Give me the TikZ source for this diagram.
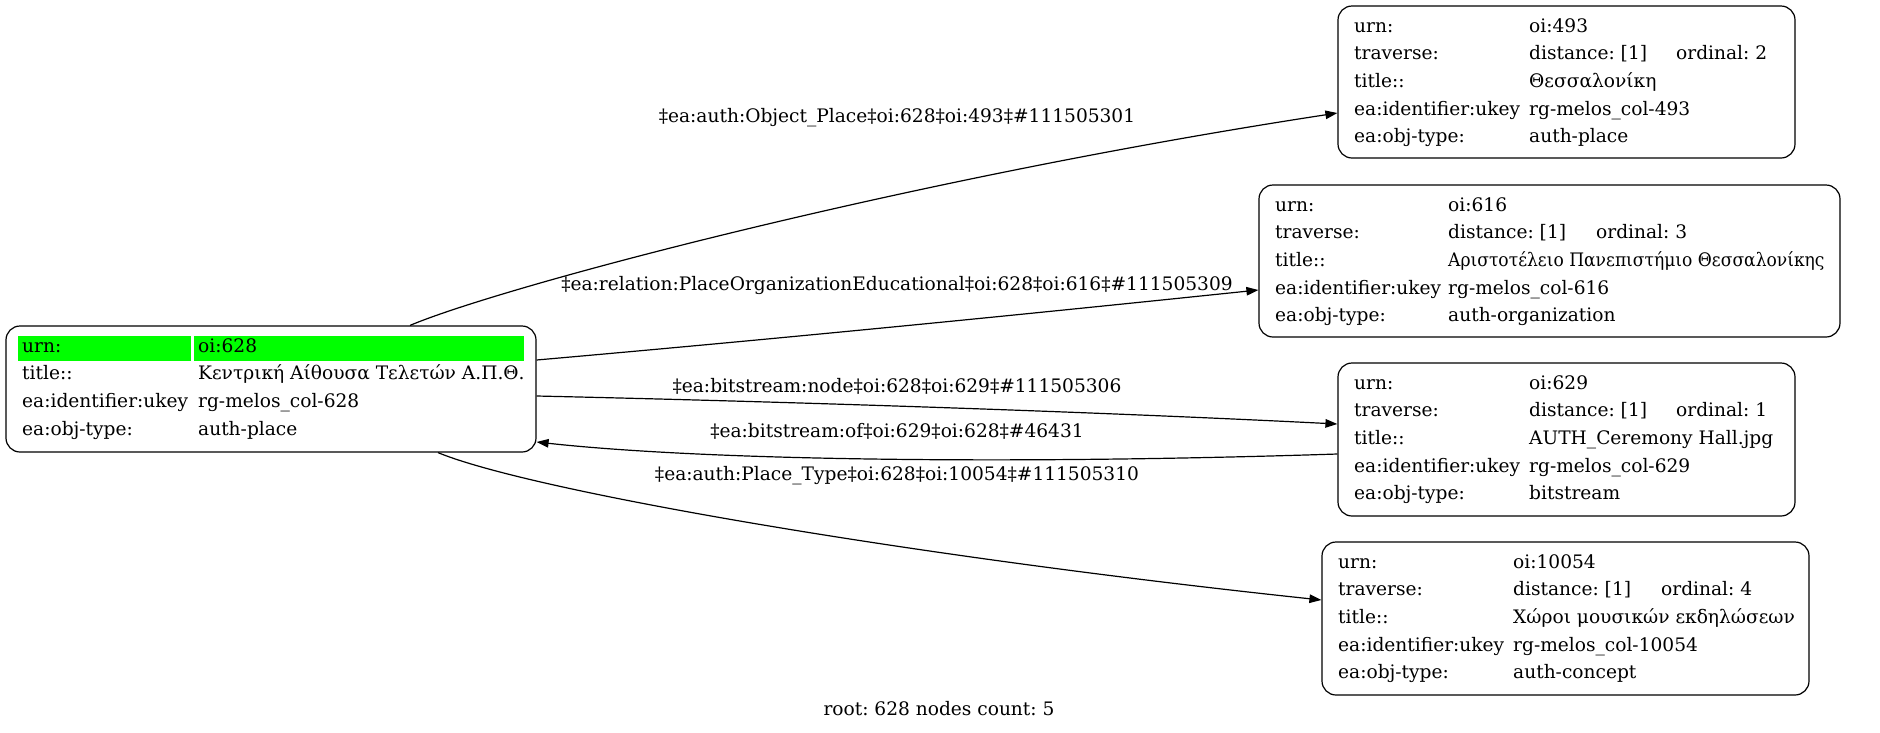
\documentclass[tikz,border=0pt]{standalone}
\usepackage{fontspec}
\setmainfont{DejaVu Serif}
\newfontfamily\narrowgr[FakeStretch=0.92]{DejaVu Serif}
\usetikzlibrary{arrows.meta}
\definecolor{hl}{HTML}{00FF00}
\frenchspacing
\tikzset{
  box/.style={draw, line width=1.2pt, rounded corners=14pt, inner sep=0pt},
  cell/.style={anchor=base west, inner sep=0pt, font=\fontsize{18.6}{22}\selectfont},
  lbl/.style={inner sep=0pt, font=\fontsize{18.6}{22}\selectfont},
  edge/.style={line width=1.2pt, -{Triangle[length=12pt,width=8.5pt]}},
  hlcell/.style={fill=hl, inner sep=0pt}
}
\begin{document}
\begin{tikzpicture}[x=1pt,y=-1pt]
\useasboundingbox (0,0) rectangle (1880,732);
% boxes
\node[box, minimum width=530pt, minimum height=126pt] (root) at (271,389) {};
\node[box, minimum width=457pt, minimum height=152pt] (n493) at (1566.5,82) {};
\node[box, minimum width=581pt, minimum height=152pt] (n616) at (1549.5,261) {};
\node[box, minimum width=457pt, minimum height=153pt] (n629) at (1566.5,439.5) {};
\node[box, minimum width=487pt, minimum height=153pt] (n10054) at (1565.5,618.5) {};
% root highlight
\node[hlcell, minimum width=173pt, minimum height=25pt, anchor=north west] (h1) at (18,336) {};
\node[hlcell, minimum width=330pt, minimum height=25pt, anchor=north west] (h2) at (194,336) {};
% root text
\node[cell] (r1a) at (22,352) {urn:};
\node[cell] (r1b) at (198,352) {oi:628};
\node[cell] (r2a) at (22,379.7) {title::};
\node[cell] (r2b) at (198,379.7) {Κεντρική Αίθουσα Τελετών Α.Π.Θ.};
\node[cell] (r3a) at (22,407.4) {ea:identifier:ukey};
\node[cell] (r3b) at (198,407.4) {rg-melos\_col-628};
\node[cell] (r4a) at (22,435.1) {ea:obj-type:};
\node[cell] (r4b) at (198,435.1) {auth-place};
% 493
\node[cell] (a1a) at (1354,32) {urn:};
\node[cell] (a1b) at (1529,32) {oi:493};
\node[cell] (a2a) at (1354,59.7) {traverse:};
\node[cell] (a2b) at (1529,59.7) {distance: [1]};
\node[cell] (a2c) at (1676,59.7) {ordinal: 2};
\node[cell] (a3a) at (1354,87.4) {title::};
\node[cell] (a3b) at (1529,87.4) {Θεσσαλονίκη};
\node[cell] (a4a) at (1354,115.1) {ea:identifier:ukey};
\node[cell] (a4b) at (1529,115.1) {rg-melos\_col-493};
\node[cell] (a5a) at (1354,142.8) {ea:obj-type:};
\node[cell] (a5b) at (1529,142.8) {auth-place};
% 616
\node[cell] (b1a) at (1275,211) {urn:};
\node[cell] (b1b) at (1448,211) {oi:616};
\node[cell] (b2a) at (1275,238.7) {traverse:};
\node[cell] (b2b) at (1448,238.7) {distance: [1]};
\node[cell] (b2c) at (1596,238.7) {ordinal: 3};
\node[cell] (b3a) at (1275,266.4) {title::};
\node[cell] (b3b) at (1448,266.4) {\narrowgr Αριστοτέλειο Πανεπιστήμιο Θεσσαλονίκης};
\node[cell] (b4a) at (1275,294.1) {ea:identifier:ukey};
\node[cell] (b4b) at (1448,294.1) {rg-melos\_col-616};
\node[cell] (b5a) at (1275,321.8) {ea:obj-type:};
\node[cell] (b5b) at (1448,321.8) {auth-organization};
% 629
\node[cell] (c1a) at (1354,389) {urn:};
\node[cell] (c1b) at (1529,389) {oi:629};
\node[cell] (c2a) at (1354,416.7) {traverse:};
\node[cell] (c2b) at (1529,416.7) {distance: [1]};
\node[cell] (c2c) at (1676,416.7) {ordinal: 1};
\node[cell] (c3a) at (1354,444.4) {title::};
\node[cell] (c3b) at (1529,444.4) {AUTH\_Ceremony Hall.jpg};
\node[cell] (c4a) at (1354,472.1) {ea:identifier:ukey};
\node[cell] (c4b) at (1529,472.1) {rg-melos\_col-629};
\node[cell] (c5a) at (1354,499.8) {ea:obj-type:};
\node[cell] (c5b) at (1529,499.8) {bitstream};
% 10054
\node[cell] (d1a) at (1338,568) {urn:};
\node[cell] (d1b) at (1513,568) {oi:10054};
\node[cell] (d2a) at (1338,595.7) {traverse:};
\node[cell] (d2b) at (1513,595.7) {distance: [1]};
\node[cell] (d2c) at (1661,595.7) {ordinal: 4};
\node[cell] (d3a) at (1338,623.4) {title::};
\node[cell] (d3b) at (1513,623.4) {Χώροι μουσικών εκδηλώσεων};
\node[cell] (d4a) at (1338,651.1) {ea:identifier:ukey};
\node[cell] (d4b) at (1513,651.1) {rg-melos\_col-10054};
\node[cell] (d5a) at (1338,678.8) {ea:obj-type:};
\node[cell] (d5b) at (1513,678.8) {auth-concept};
% edges
\draw[edge] ([xshift=139pt]root.north) .. controls +(90,-38) and +(-438,67) .. ([yshift=-31pt]n493.west);
\draw[edge] ([yshift=29pt]root.east) .. controls +(250,-22) and +(-250,26) .. ([yshift=-29pt]n616.west);
\draw[edge] ([yshift=-7pt]root.east) .. controls +(264,6) and +(-238,-12) .. ([yshift=15.5pt]n629.west);
\draw[edge] ([yshift=-14.5pt]n629.west) .. controls +(-338,11) and +(164,18) .. ([yshift=-53pt]root.east);
\draw[edge] ([xshift=167pt]root.south) .. controls +(92,38) and +(-422,-45) .. ([yshift=18.5pt]n10054.west);
% edge labels
\node[lbl] (l1) at (897,117.5) {‡ea:auth:Object\_Place‡oi:628‡oi:493‡\#111505301};
\node[lbl] (l2) at (897,285) {‡ea:relation:PlaceOrganizationEducational‡oi:628‡oi:616‡\#111505309};
\node[lbl] (l3) at (897,386) {‡ea:bitstream:node‡oi:628‡oi:629‡\#111505306};
\node[lbl] (l4) at (897,431.6) {‡ea:bitstream:of‡oi:629‡oi:628‡\#46431};
\node[lbl] (l5) at (897,476) {‡ea:auth:Place\_Type‡oi:628‡oi:10054‡\#111505310};
\node[lbl] (foot) at (939,708.6) {root: 628 nodes count: 5};
\end{tikzpicture}
\end{document}
